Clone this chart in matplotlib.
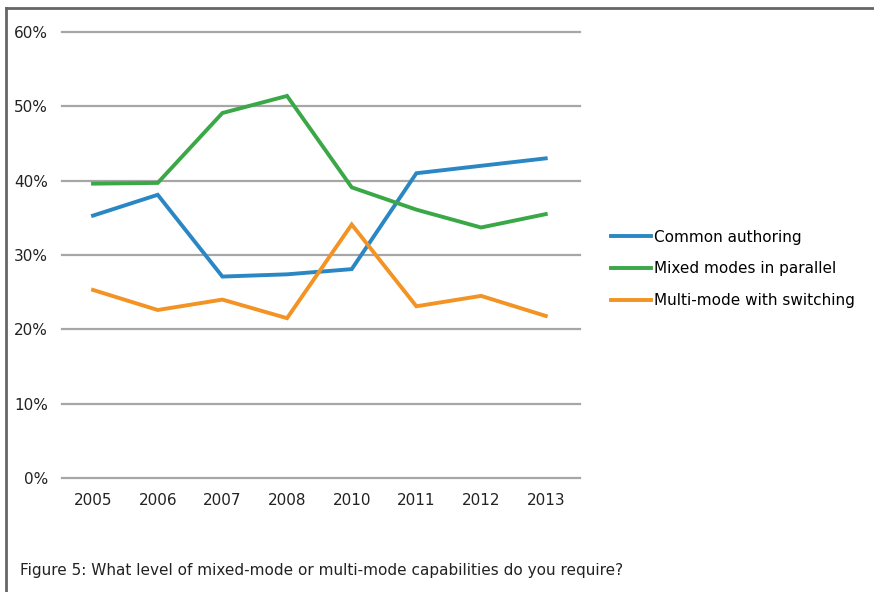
import matplotlib.pyplot as plt
from matplotlib.lines import Line2D

years = ['2005', '2006', '2007', '2008', '2010', '2011', '2012', '2013']
common_authoring = [35.3, 38.1, 27.1, 27.4, 28.1, 41.0, 42.0, 43.0]
mixed_parallel = [39.6, 39.7, 49.1, 51.4, 39.1, 36.1, 33.7, 35.5]
multi_switching = [25.3, 22.6, 24.0, 21.5, 34.1, 23.1, 24.5, 21.8]
y_ticks = [0, 10, 20, 30, 40, 50, 60]

plt.rcParams['font.family'] = ['DejaVu Sans']

fig = plt.figure(figsize=(8.74, 5.92), dpi=100)
ax = fig.add_axes([62/874, 1-478/592, 518/874, 446/592])

x = range(len(years))
ax.plot(x, common_authoring, color='#2b87c3', lw=2.8, label='Common authoring', solid_joinstyle='miter')
ax.plot(x, mixed_parallel, color='#3aa846', lw=2.8, label='Mixed modes in parallel', solid_joinstyle='miter')
ax.plot(x, multi_switching, color='#f39324', lw=2.8, label='Multi-mode with switching', solid_joinstyle='miter')

ax.set_xlim(-0.48, 7.53)
ax.set_ylim(0, 60)
ax.set_yticks(y_ticks)
ax.set_yticklabels(['{}%'.format(v) for v in y_ticks])
ax.set_xticks(list(x))
ax.set_xticklabels(years)
ax.tick_params(length=0, labelsize=11, colors='#222222')
ax.tick_params(axis='y', pad=10)
ax.tick_params(axis='x', pad=11)
for v in y_ticks:
    ax.axhline(v, color='#a6a6a6', lw=1.6, zorder=0, clip_on=False)
for s in ax.spines.values():
    s.set_visible(False)

fig.legend(loc='center left', bbox_to_anchor=(611/874, 1-269/592), frameon=False,
           fontsize=11, handlelength=2.6, handletextpad=0.2, labelspacing=1.1,
           borderpad=0, borderaxespad=0)

fig.text(20/874, 1-571/592, 'Figure 5: What level of mixed-mode or multi-mode capabilities do you require?',
         fontsize=11, va='center', ha='left', color='#222222')

# frame on top and left
fig.add_artist(Line2D([6/874, 6/874], [0, 1-8/592], color='#666666', lw=2, transform=fig.transFigure))
fig.add_artist(Line2D([6/874, 1], [1-8/592, 1-8/592], color='#666666', lw=2, transform=fig.transFigure))

fig.savefig('out.png', dpi=100)
